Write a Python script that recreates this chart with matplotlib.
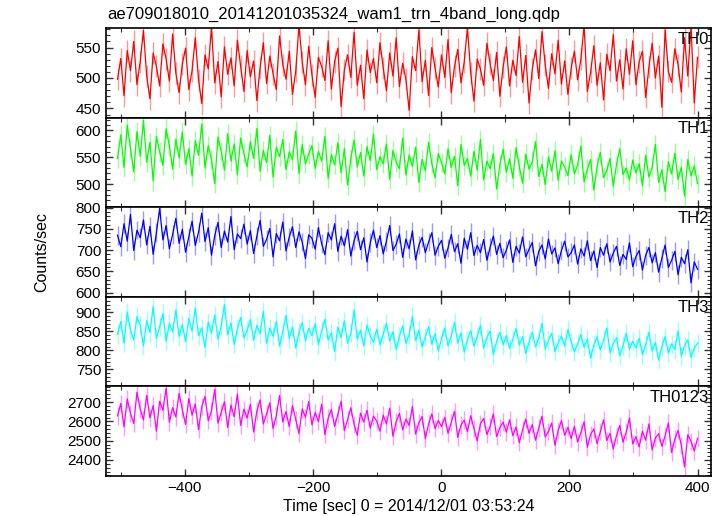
import numpy as np
import matplotlib
matplotlib.use('Agg')
import matplotlib.pyplot as plt
from matplotlib.ticker import MultipleLocator, AutoMinorLocator

plt.rcParams['font.family'] = ['Liberation Sans', 'DejaVu Sans']

title = 'ae709018010_20141201035324_wam1_trn_4band_long.qdp'
x_label = 'Time [sec] 0 = 2014/12/01 03:53:24'
y_label = 'Counts/sec'

bands = ['TH0', 'TH1', 'TH2', 'TH3', 'TH0123']
colors = ['#ff0000', '#00ff00', '#0000ff', '#00ffff', '#ff00ff']
t_start = -505
t_end = 400

th0 = [498, 532, 471, 545, 512, 560, 489, 527, 578, 503, 466, 541, 519, 487, 556, 531, 495, 572, 508, 476,
       523, 549, 481, 512, 566, 497, 458, 538, 515, 584, 492, 527, 469, 551, 506, 533, 487, 562, 519, 478,
       545, 502, 528, 463, 517, 558, 491, 536, 507, 481, 569, 522, 498, 544, 473, 511, 587, 526, 489, 552,
       505, 468, 534, 519, 496, 561, 482, 527, 549, 453, 513, 538, 501, 575, 488, 521, 466, 546, 509, 532,
       492, 558, 517, 479, 541, 503, 566, 486, 524, 498, 447, 535, 512, 579, 494, 529, 471, 550, 516, 485,
       538, 501, 563, 476, 519, 547, 492, 526, 583, 508, 462, 531, 515, 488, 557, 523, 496, 542, 470, 518,
       551, 487, 529, 504, 568, 493, 537, 459, 514, 546, 499, 576, 521, 483, 540, 507, 562, 490, 528, 473,
       516, 544, 497, 531, 586, 478, 509, 553, 488, 525, 464, 539, 512, 571, 495, 530, 482, 548, 506, 561,
       489, 527, 544, 468, 518, 557, 500, 536, 452, 579, 511, 493, 548, 522, 477, 566, 503, 585, 459, 534]

th1 = [548, 592, 531, 610, 567, 523, 598, 552, 619, 541, 578, 506, 589, 560, 535, 603, 571, 528, 584, 549,
       597, 537, 566, 515, 581, 554, 612, 530, 572, 546, 501, 588, 561, 526, 594, 543, 575, 518, 586, 557,
       532, 579, 548, 604, 524, 563, 540, 591, 513, 569, 551, 583, 527, 560, 545, 599, 520, 574, 538, 556,
       572, 529, 561, 543, 589, 511, 555, 536, 577, 521, 566, 498, 548, 582, 532, 559, 515, 570, 544, 593,
       527, 551, 538, 575, 509, 563, 541, 529, 586, 517, 554, 533, 569, 503, 546, 525, 578, 538, 512, 557,
       540, 519, 566, 531, 552, 497, 574, 535, 548, 515, 561, 526, 583, 508, 543, 529, 557, 491, 536, 565,
       522, 547, 511, 568, 533, 502, 556, 528, 541, 579, 514, 537, 499, 551, 524, 562, 507, 543, 532, 516,
       555, 519, 536, 571, 504, 528, 546, 489, 533, 559, 512, 525, 548, 496, 537, 566, 518, 530, 508, 545,
       521, 538, 497, 554, 513, 531, 574, 503, 527, 486, 542, 519, 558, 509, 531, 478, 546, 515, 534, 501]

th2 = [735, 708, 762, 721, 784, 699, 747, 729, 771, 712, 756, 690, 741, 798, 724, 758, 703, 737, 775, 716,
       749, 695, 731, 768, 711, 742, 787, 720, 753, 688, 734, 765, 706, 745, 719, 779, 701, 738, 727, 761,
       714, 746, 692, 733, 770, 709, 725, 751, 684, 739, 722, 766, 698, 731, 755, 706, 743, 719, 680, 736,
       728, 702, 753, 715, 689, 741, 724, 762, 697, 733, 710, 748, 686, 722, 744, 701, 729, 672, 718, 747,
       706, 734, 691, 721, 758, 699, 714, 738, 683, 726, 703, 745, 677, 712, 730, 694, 719, 741, 688, 709,
       723, 681, 705, 737, 696, 715, 669, 728, 702, 741, 687, 711, 694, 725, 676, 707, 733, 690, 716, 682,
       700, 724, 671, 709, 693, 731, 684, 702, 718, 663, 697, 712, 679, 726, 691, 705, 668, 699, 721, 684,
       694, 712, 667, 703, 686, 722, 675, 698, 659, 706, 688, 715, 672, 693, 709, 664, 690, 678, 717, 661,
       685, 699, 653, 688, 706, 670, 694, 648, 681, 712, 659, 676, 697, 642, 683, 668, 701, 623, 672, 655]

th3 = [842, 876, 819, 901, 853, 827, 889, 866, 812, 878, 847, 915, 831, 862, 897, 824, 871, 849, 906, 836,
       868, 823, 884, 851, 912, 838, 859, 807, 875, 846, 893, 829, 864, 921, 841, 872, 816, 857, 887, 833,
       852, 881, 827, 866, 844, 903, 818, 859, 837, 876, 811, 849, 892, 831, 862, 806, 847, 873, 825, 858,
       839, 870, 815, 851, 882, 827, 846, 797, 861, 834, 878, 819, 845, 906, 829, 853, 812, 867, 838, 821,
       856, 814, 843, 871, 825, 849, 802, 837, 865, 818, 841, 889, 826, 853, 809, 835, 862, 816, 844, 798,
       831, 859, 812, 838, 874, 819, 846, 795, 828, 852, 811, 836, 866, 806, 833, 851, 789, 824, 847, 815,
       839, 805, 829, 858, 814, 836, 792, 821, 848, 809, 832, 871, 803, 826, 845, 797, 819, 838, 811, 855,
       823, 796, 817, 842, 808, 829, 779, 814, 836, 801, 826, 859, 794, 818, 833, 786, 811, 845, 803, 824,
       807, 832, 789, 815, 848, 798, 821, 774, 810, 836, 793, 817, 802, 851, 785, 812, 828, 781, 806, 819]

th0123 = [2628, 2693, 2571, 2716, 2642, 2589, 2751, 2664, 2607, 2735, 2618, 2682, 2549, 2704, 2657, 2772, 2596, 2671, 2623, 2745,
          2661, 2584, 2718, 2632, 2690, 2557, 2676, 2729, 2603, 2654, 2766, 2591, 2647, 2702, 2568, 2685, 2624, 2741, 2579, 2663,
          2617, 2688, 2545, 2654, 2711, 2586, 2639, 2696, 2562, 2628, 2734, 2597, 2651, 2573, 2682, 2609, 2537, 2664, 2621, 2703,
          2582, 2646, 2598, 2689, 2531, 2617, 2662, 2574, 2636, 2704, 2552, 2609, 2671, 2585, 2528, 2643, 2596, 2658, 2564, 2627,
          2601, 2549, 2632, 2587, 2668, 2523, 2598, 2641, 2556, 2612, 2579, 2677, 2534, 2593, 2625, 2511, 2586, 2639, 2562, 2604,
          2573, 2621, 2538, 2594, 2652, 2517, 2581, 2607, 2546, 2629, 2563, 2498, 2588, 2615, 2532, 2574, 2639, 2521, 2567, 2596,
          2544, 2608, 2526, 2571, 2489, 2556, 2612, 2537, 2583, 2502, 2565, 2627, 2519, 2548, 2591, 2476, 2553, 2604, 2528, 2569,
          2512, 2574, 2493, 2541, 2598, 2466, 2532, 2561, 2484, 2547, 2608, 2501, 2538, 2457, 2526, 2579, 2492, 2544, 2617, 2483,
          2521, 2468, 2549, 2503, 2587, 2452, 2514, 2536, 2471, 2525, 2592, 2439, 2508, 2553, 2476, 2364, 2531, 2497, 2446, 2512]

rates = [th0, th1, th2, th3, th0123]
errors = [18, 18, 22, 24, 45]
y_limits = [(435, 582), (457, 624), (590, 801), (705, 941), (2317, 2781)]
y_major = [50, 50, 50, 50, 100]

fig, axs = plt.subplots(5, 1, sharex=True, figsize=(7.24, 5.16), dpi=100)
fig.subplots_adjust(left=0.1464, right=0.982, bottom=0.0775, top=0.9457, hspace=0)

for ax, name, col, vals, err, ylim, maj in zip(axs, bands, colors, rates, errors, y_limits, y_major):
    t = np.linspace(t_start, t_end, len(vals))
    ax.errorbar(t, vals, yerr=err, fmt='none', ecolor=col, alpha=0.4, lw=1.0)
    ax.plot(t, vals, color=col, lw=0.9)
    ax.set_ylim(*ylim)
    ax.yaxis.set_major_locator(MultipleLocator(maj))
    ax.yaxis.set_minor_locator(AutoMinorLocator(5))
    ax.xaxis.set_major_locator(MultipleLocator(200))
    ax.xaxis.set_minor_locator(MultipleLocator(100))
    ax.tick_params(which='both', direction='in', top=True, right=True, labelsize=11, color='#333333')
    ax.tick_params(which='major', length=5, width=1)
    ax.tick_params(which='minor', length=3, width=0.8)
    for s in ax.spines.values():
        s.set_linewidth(1.2)
    ax.text(0.997, 0.96, name, transform=ax.transAxes, ha='right', va='top', fontsize=12)

axs[-1].set_xlim(-523, 421)
axs[-1].set_xlabel(x_label, fontsize=11.5, labelpad=3)
fig.text(0.148, 0.972, title, ha='left', va='center', fontsize=12)
fig.text(0.058, 0.512, y_label, rotation=90, ha='center', va='center', fontsize=11.5)

fig.savefig('out.png', dpi=100)
